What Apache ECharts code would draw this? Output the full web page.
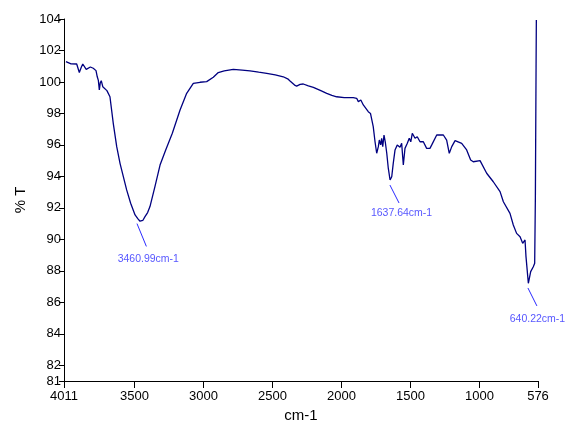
<!DOCTYPE html>
<html><head><meta charset="utf-8">
<script src="https://cdn.jsdelivr.net/npm/echarts@6/dist/echarts.min.js"></script>
<style>html,body{margin:0;padding:0;background:#fff}#c{width:565px;height:421px}</style>
</head><body><div id="c"></div>
<script>
var wavenumbers = [3997,3960,3919,3900,3885,3875,3850,3820,3799,3779,3770,3762,3755,3748,3741,3730,3720,3700,3678,3654,3629,3605,3581,3557,3528,3496,3475,3460,3440,3424,3405,3388,3352,3315,3274,3226,3170,3122,3074,3025,2977,2929,2893,2850,2784,2720,2663,2600,2542,2480,2422,2390,2373,2340,2325,2300,2277,2240,2204,2150,2107,2070,2035,1980,1915,1890,1878,1860,1842,1806,1790,1770,1757,1745,1733,1726,1716,1709,1701,1692,1683,1672,1661,1648,1636,1625,1612,1596,1576,1564,1552,1540,1523,1509,1498,1487,1467,1451,1431,1407,1383,1359,1346,1310,1262,1238,1219,1201,1177,1129,1093,1064,1045,1033,996,948,900,851,827,779,755,731,706,687,670,663,646,629,610,600,595,590,588];
var transmittance = [101.29,101.15,101.14,100.6,100.95,101.14,100.8,100.95,100.87,100.72,100.33,100.1,99.5,99.95,100.08,99.7,99.8,99.45,99.06,97.37,95.89,94.83,93.98,93.14,92.29,91.55,91.3,91.15,91.2,91.44,91.7,92.08,93.35,94.72,95.68,96.74,98.22,99.28,99.91,99.98,100.02,100.3,100.6,100.7,100.8,100.75,100.7,100.62,100.55,100.45,100.33,100.2,100.06,99.8,99.74,99.85,99.87,99.75,99.66,99.45,99.28,99.15,99.06,99.0,99.0,98.96,98.75,98.85,98.54,98.11,98.0,97.16,96.2,95.47,95.89,96.31,96.0,96.42,95.89,96.63,96.2,95.47,94.52,93.77,93.98,94.83,95.68,96.0,95.85,96.1,94.72,95.78,96.1,96.42,96.2,96.74,96.42,96.52,96.2,96.2,95.78,95.78,96.0,96.63,96.63,96.31,95.47,95.89,96.27,96.1,95.68,95.04,94.93,94.83,95.0,94.2,93.66,93.03,92.39,91.65,90.91,90.38,90.17,89.75,89.96,88.9,87.21,87.95,88.26,88.48,92.71,100.97,103.94];
var xTicks = [4011,3500,3000,2500,2000,1500,1000,576];
var yTicks = [81,82,84,86,88,90,92,94,96,98,100,102,104];
var peakLabels = ['3460.99cm-1','1637.64cm-1','640.22cm-1'];
var peakLeaderStart = [[3482,91.0],[1649,93.45],[649,86.91]];
var peakLeaderEnd = [[3414,89.55],[1583,92.31],[584,85.77]];
var peakLabelPos = [[3400,88.75],[1565,91.65],[580,84.95]];

var FONT = '"Liberation Sans",Arial,sans-serif';
var chart = echarts.init(document.getElementById('c'), null, {renderer:'canvas'});
var lineData = wavenumbers.map(function(w,i){return [w, transmittance[i]];});
var leaders = peakLeaderStart.map(function(s,i){return [{coord:s},{coord:peakLeaderEnd[i]}];});
var labelData = peakLabelPos.map(function(p,i){return {value:p, name:peakLabels[i]};});
chart.setOption({
  animation:false,
  backgroundColor:'#fff',
  grid:{left:64,right:27,top:19,bottom:40,containLabel:false,outerBoundsMode:'none'},
  xAxis:{type:'value',min:576,max:4011,inverse:true,
    name:'cm-1',nameLocation:'middle',nameGap:24,
    nameTextStyle:{color:'#000',fontSize:15,fontFamily:FONT},
    axisLine:{lineStyle:{color:'#000',width:1}},
    axisTick:{customValues:xTicks,length:7,lineStyle:{color:'#000'}},
    axisLabel:{customValues:xTicks,color:'#000',fontSize:13,fontFamily:FONT,margin:9,
      formatter:function(v){return String(v);}},
    splitLine:{show:false}},
  yAxis:{type:'value',min:81,max:104,
    name:'% T',nameLocation:'middle',nameGap:36,nameRotate:90,
    nameTextStyle:{color:'#000',fontSize:15,fontFamily:FONT},
    axisLine:{show:true,lineStyle:{color:'#000',width:1}},
    axisTick:{show:true,customValues:yTicks,length:5,lineStyle:{color:'#000'}},
    axisLabel:{customValues:yTicks,color:'#000',fontSize:13,fontFamily:FONT,margin:3,
      formatter:function(v){return String(v);}},
    splitLine:{show:false}},
  series:[
    {type:'line',data:lineData,showSymbol:false,symbol:'none',
     lineStyle:{color:'#000080',width:1.3},
     markLine:{silent:true,symbol:['none','none'],label:{show:false},
       lineStyle:{color:'#2a2aff',width:1,type:'solid'},data:leaders}},
    {type:'scatter',data:labelData,symbolSize:0,silent:true,
     label:{show:true,position:'inside',formatter:function(p){return p.name;},
       color:'#2a2aff',fontSize:10.5,fontFamily:FONT}}
  ]
});
</script></body></html>
